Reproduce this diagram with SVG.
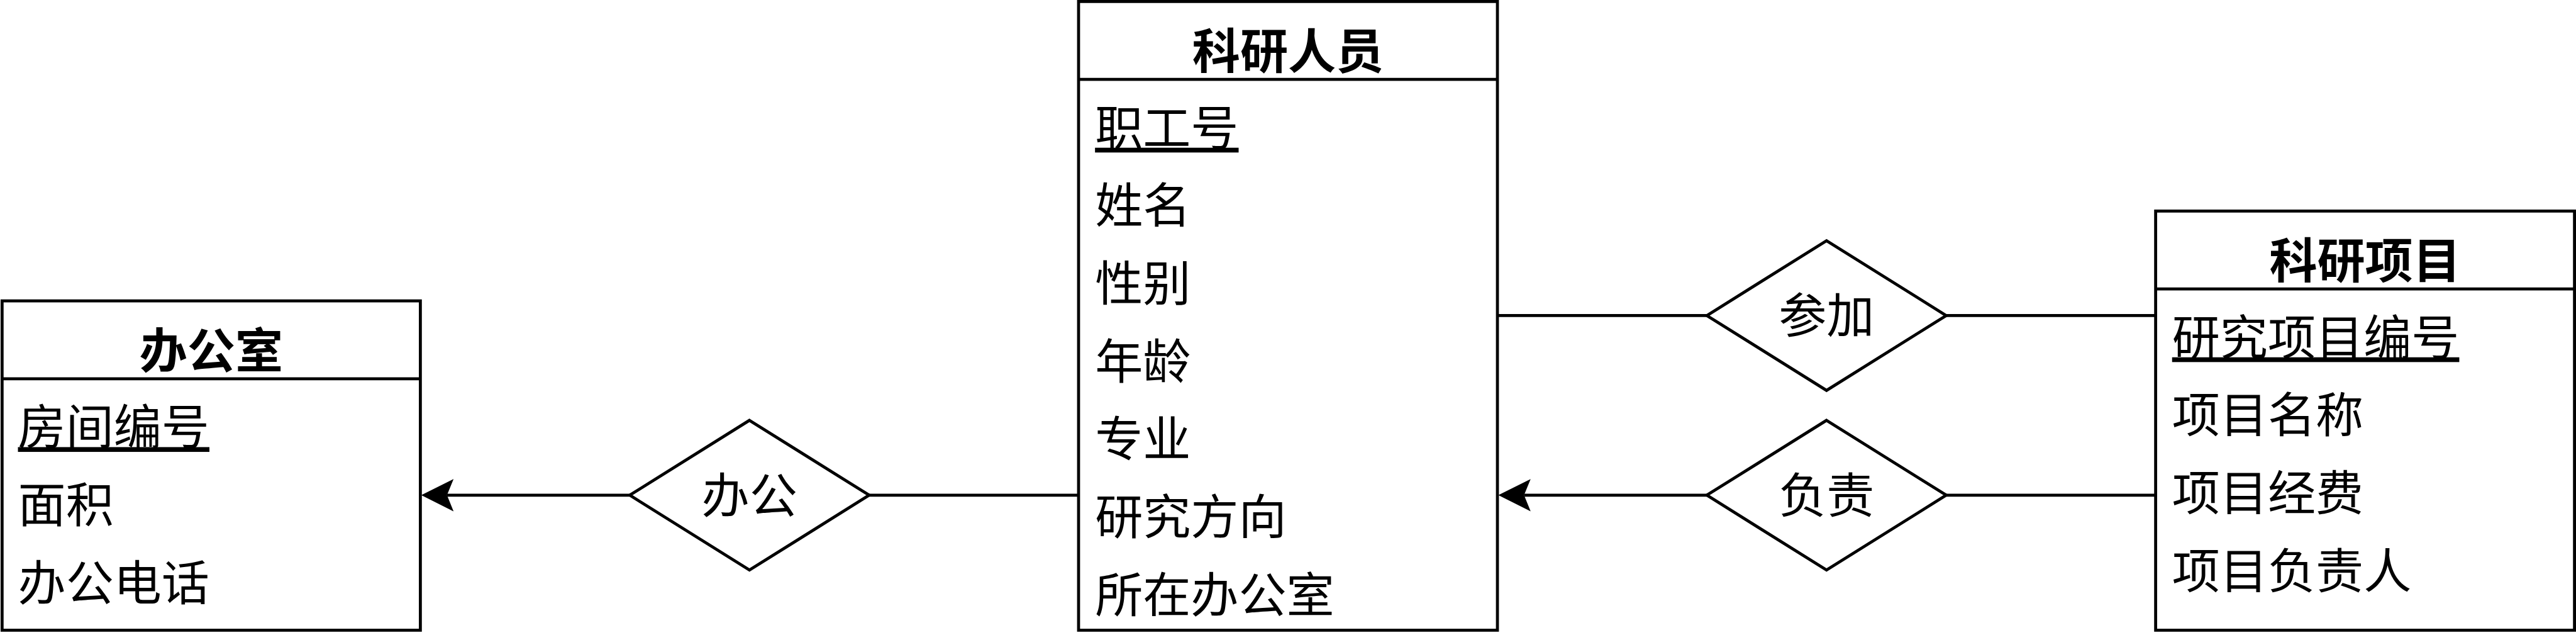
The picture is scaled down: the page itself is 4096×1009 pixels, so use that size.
<svg xmlns="http://www.w3.org/2000/svg" width="4096" height="1009" viewBox="0 0 4096 1009">
<style>
.box{fill:#fff;stroke:#000;stroke-width:5}
.sep{stroke:#000;stroke-width:5;fill:none}
.rel{fill:#fff;stroke:#000;stroke-width:5}
.edge{stroke:#000;stroke-width:5;fill:none}
text{font-family:"Noto Sans CJK SC","Noto Sans",sans-serif;font-size:80px;fill:#000}
.hd{font-weight:bold;text-anchor:middle}
.pk{text-decoration:underline}
.lbl{text-anchor:middle}
</style>
<defs>
<marker id="arr" markerUnits="userSpaceOnUse" viewBox="0 -30 60 60" markerWidth="60" markerHeight="60" refX="11" refY="0" orient="auto">
<path d="M0,-27 L54,0 L0,27 L11,0 Z" fill="#000"/>
</marker>
</defs>
<rect width="4096" height="1009" fill="#fff"/>
<g transform="scale(0.95145)">
<g id="connectors">
<path class="edge" d="M1802.5,827 H1452.5"/>
<path class="edge" d="M1052.5,827 H747" marker-end="url(#arr)"/>
<path class="edge" d="M2502.5,527 H2852.5"/>
<path class="edge" d="M3252.5,527 H3602.5"/>
<path class="edge" d="M3602.5,827 H3252.5"/>
<path class="edge" d="M2852.5,827 H2547" marker-end="url(#arr)"/>
</g>
<g id="office">
<rect class="box" x="3.5" y="502.5" width="699" height="550"/>
<line class="sep" x1="3.5" y1="632.5" x2="702.5" y2="632.5"/>
<text class="hd" x="353" y="614.5">办公室</text>
<text class="pk" x="30" y="742.5">房间编号</text>
<text x="30" y="872.5">面积</text>
<text x="30" y="1002.5">办公电话</text>
</g>
<g id="researcher">
<rect class="box" x="1802.5" y="2.5" width="700" height="1050"/>
<line class="sep" x1="1802.5" y1="132.5" x2="2502.5" y2="132.5"/>
<text class="hd" x="2152.5" y="114.5">科研人员</text>
<text class="pk" x="1830" y="242.5">职工号</text>
<text x="1830" y="372.5">姓名</text>
<text x="1830" y="502.5">性别</text>
<text x="1830" y="632.5">年龄</text>
<text x="1830" y="762.5">专业</text>
<text x="1830" y="892.5">研究方向</text>
<text x="1830" y="1022.5">所在办公室</text>
</g>
<g id="project">
<rect class="box" x="3602.5" y="352.5" width="700" height="700"/>
<line class="sep" x1="3602.5" y1="482.5" x2="4302.5" y2="482.5"/>
<text class="hd" x="3952.5" y="464.5">科研项目</text>
<text class="pk" x="3630" y="592.5">研究项目编号</text>
<text x="3630" y="722.5">项目名称</text>
<text x="3630" y="852.5">项目经费</text>
<text x="3630" y="982.5">项目负责人</text>
</g>
<g id="rel-bangong">
<path class="rel" d="M1252.5,702 L1452.5,827 L1252.5,952 L1052.5,827 Z"/>
<text class="lbl" x="1252.5" y="856.5">办公</text>
</g>
<g id="rel-canjia">
<path class="rel" d="M3052.5,402 L3252.5,527 L3052.5,652 L2852.5,527 Z"/>
<text class="lbl" x="3052.5" y="556.5">参加</text>
</g>
<g id="rel-fuze">
<path class="rel" d="M3052.5,702 L3252.5,827 L3052.5,952 L2852.5,827 Z"/>
<text class="lbl" x="3052.5" y="856.5">负责</text>
</g>
</g>
</svg>
